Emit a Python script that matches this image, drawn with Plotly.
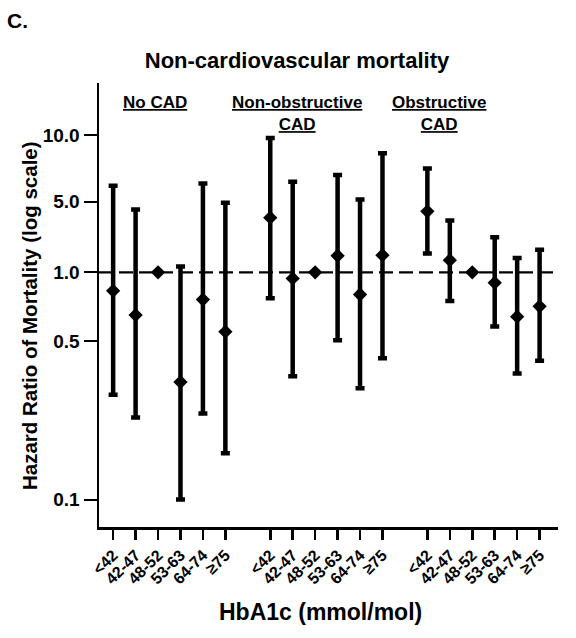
import numpy as np
import plotly.graph_objects as go

# ---------------- data ----------------
categories = ["<42", "42-47", "48-52", "53-63", "64-74", "≥75"]
group_labels = ["No CAD", "Non-obstructive<br>CAD", "Obstructive<br>CAD"]

hr_no_cad = [0.83, 0.65, 1.0, 0.33, 0.76, 0.55]
lo_no_cad = [0.29, 0.23, None, 0.10, 0.24, 0.16]
hi_no_cad = [5.9, 4.2, None, 1.14, 6.05, 4.9]

hr_nonobs = [3.48, 0.94, 1.0, 1.46, 0.80, 1.48]
lo_nonobs = [0.77, 0.35, None, 0.505, 0.31, 0.42]
hi_nonobs = [9.7, 6.15, None, 6.6, 5.12, 8.27]

hr_obs = [4.02, 1.32, 1.0, 0.90, 0.64, 0.71]
lo_obs = [1.54, 0.75, None, 0.58, 0.36, 0.41]
hi_obs = [7.07, 3.27, None, 2.23, 1.39, 1.67]

tick_values = [0.1, 0.5, 1.0, 5.0, 10.0]
tick_labels = ["0.1", "0.5", "1.0", "5.0", "10.0"]

# ---------------- axis mapping (custom log-scale ticks as in the figure) ----------------
TICK_POS = [0.0, 158.3, 227.1, 297.6, 364.3]


def to_u(v):
    return float(np.interp(np.log10(v), np.log10(tick_values), TICK_POS))


FONT = "Arial, Liberation Sans, Helvetica, sans-serif"

# plot-area geometry (px) used to place free text
L, R, T, B = 99, 18, 83, 111
W, H = 576, 638
PW, PH = W - L - R, H - T - B


def px_x(px):
    return (px - L) / PW


def px_y(py):
    return (H - B - py) / PH


series = [
    (hr_no_cad, lo_no_cad, hi_no_cad),
    (hr_nonobs, lo_nonobs, hi_nonobs),
    (hr_obs, lo_obs, hi_obs),
]

xs, ys, eplus, eminus = [], [], [], []
tickvals, ticktext = [], []
for g, (hr, lo, hi) in enumerate(series):
    for i, cat in enumerate(categories):
        x = g * 7 + i
        xs.append(x)
        tickvals.append(x)
        ticktext.append(cat)
        u = to_u(hr[i])
        ys.append(u)
        if lo[i] is None or hi[i] is None:
            eplus.append(np.nan)
            eminus.append(np.nan)
        else:
            eplus.append(to_u(hi[i]) - u)
            eminus.append(u - to_u(lo[i]))

fig = go.Figure()
fig.add_trace(go.Scatter(
    x=xs, y=ys, mode="markers",
    marker=dict(symbol="diamond", size=11, color="black"),
    error_y=dict(type="data", symmetric=False, array=eplus, arrayminus=eminus,
                 color="black", thickness=4.5, width=4.5),
    showlegend=False, hoverinfo="skip",
))

# reference dashed line at HR = 1
fig.add_shape(type="line", xref="x", yref="y", x0=-0.63, x1=19.6,
              y0=to_u(1.0), y1=to_u(1.0),
              line=dict(color="black", width=2.2, dash="14px,6px"), layer="below")

# group labels
group_x = [1.87, 8.2, 14.53]
for gx, lab in zip(group_x, group_labels):
    parts = lab.split("<br>")
    text = "<br>".join(f"<u>{p}</u>" for p in parts)
    fig.add_annotation(x=gx, xref="x", y=px_y(91), yref="paper", yanchor="top",
                       text=text, showarrow=False, align="center",
                       font=dict(family=FONT, size=17, color="black", weight="bold"))

# panel letter
fig.add_annotation(x=px_x(5), y=px_y(20), xref="paper", yref="paper",
                   xanchor="left", yanchor="middle",
                   text="C.", showarrow=False,
                   font=dict(family=FONT, size=21, color="black", weight="bold"))

# axis titles as annotations
fig.add_annotation(x=px_x(320), y=px_y(612),
                   xref="paper", yref="paper", xanchor="center", yanchor="middle",
                   text="HbA1c (mmol/mol)", showarrow=False,
                   font=dict(family=FONT, size=23, color="black", weight="bold"))
fig.add_annotation(x=px_x(29), y=px_y(316),
                   xref="paper", yref="paper", xanchor="center", yanchor="middle",
                   textangle=-90,
                   text="Hazard Ratio of Mortality (log scale)", showarrow=False,
                   font=dict(family=FONT, size=20.5, color="black", weight="bold"))

fig.update_layout(
    width=W, height=H,
    margin=dict(l=L, r=R, t=T, b=B, pad=0, autoexpand=False),
    paper_bgcolor="white", plot_bgcolor="white",
    title=dict(text="Non-cardiovascular mortality", x=297 / W, xanchor="center",
               y=1 - 60 / H, yanchor="middle",
               font=dict(family=FONT, size=22, color="black", weight="bold")),
    xaxis=dict(range=[-0.63, 19.82], tickmode="array", tickvals=tickvals,
               ticktext=ticktext, tickangle=-45, ticks="outside", ticklen=10,
               tickwidth=2.5, tickcolor="black", showline=True, linewidth=2.5,
               linecolor="black", showgrid=False, zeroline=False, automargin=False,
               tickfont=dict(family=FONT, size=16, color="black", weight="bold")),
    yaxis=dict(range=[-27.4, 416.3], tickmode="array",
               tickvals=[to_u(v) for v in tick_values], ticktext=tick_labels,
               ticks="outside", ticklen=13, tickwidth=2, tickcolor="black",
               showline=True, linewidth=2.5, linecolor="black", showgrid=False,
               zeroline=False, automargin=False,
               tickfont=dict(family=FONT, size=19, color="black", weight="bold")),
)

fig.write_html("out.html",
               config={"displayModeBar": False, "staticPlot": True},
               post_script="document.body.style.margin='0';document.body.style.overflow='hidden';")
